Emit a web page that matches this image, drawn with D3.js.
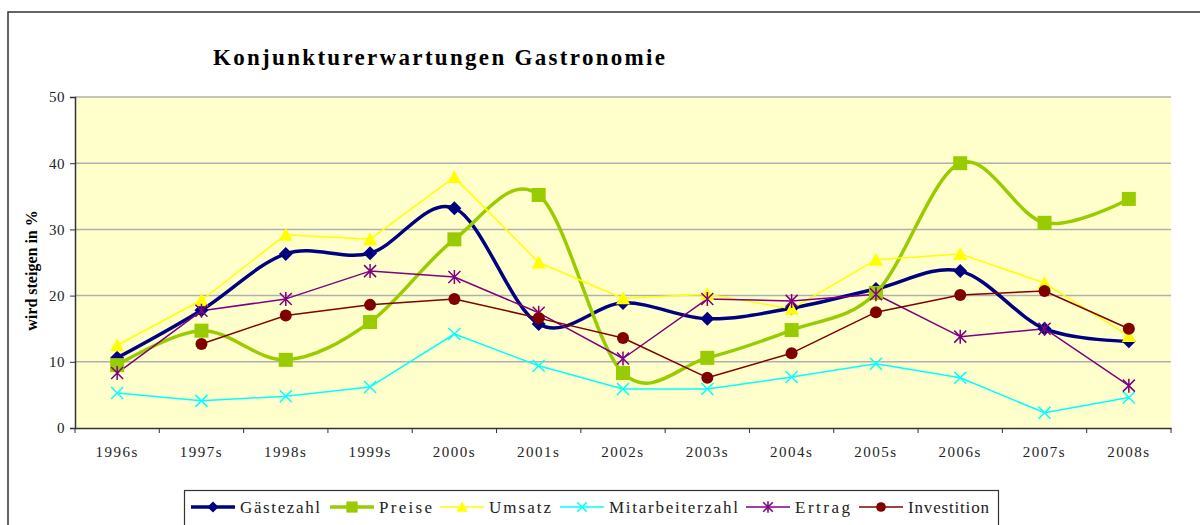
<!DOCTYPE html>
<html><head><meta charset="utf-8">
<script src="https://cdn.jsdelivr.net/npm/d3@7/dist/d3.min.js"></script>
<style>body{margin:0;background:#fff;}svg{display:block;}</style>
</head><body>
<svg id="c" width="1200" height="525"></svg>
<script>
const categories = ["1996s","1997s","1998s","1999s","2000s","2001s","2002s","2003s","2004s","2005s","2006s","2007s","2008s"];
const yTicks = [0,10,20,30,40,50];
const gaestezahl = [10.6,17.8,26.3,26.4,33.2,15.7,18.9,16.5,18.1,21.0,23.7,15.0,13.1];
const preise = [9.5,14.7,10.3,16.0,28.5,35.2,8.3,10.6,14.8,20.4,40.0,31.0,34.6];
const umsatz = [12.5,19.3,29.2,28.5,37.9,25.0,19.6,20.2,18.0,25.4,26.3,21.9,13.9];
const mitarbeiterzahl = [5.3,4.1,4.8,6.2,14.2,9.4,5.9,5.9,7.7,9.7,7.6,2.3,4.6];
const ertrag = [8.3,17.7,19.5,23.7,22.8,17.4,10.5,19.5,19.2,20.2,13.8,15.0,6.4];
const investition = [null,12.7,17.0,18.6,19.5,16.6,13.6,7.6,11.3,17.5,20.1,20.7,15.0];

const series = [
  {name:"Gästezahl", values:gaestezahl, color:"#000080", width:3.5, marker:"diamond", smooth:true},
  {name:"Preise", values:preise, color:"#99CC00", width:3.5, marker:"square", smooth:true},
  {name:"Umsatz", values:umsatz, color:"#FFFF00", width:1.5, marker:"triangle", smooth:false},
  {name:"Mitarbeiterzahl", values:mitarbeiterzahl, color:"#00FFFF", width:1.5, marker:"x", smooth:false},
  {name:"Ertrag", values:ertrag, color:"#800080", width:1.5, marker:"asterisk", smooth:false},
  {name:"Investition", values:investition, color:"#800000", width:1.5, marker:"circle", smooth:false}
];

const svg = d3.select("#c");
const L = 75, R = 1171, T = 97, B = 428;
const serif = "'Liberation Serif','Times New Roman',serif";

// outer frame
svg.append("rect").attr("x",8).attr("y",12).attr("width",1300).attr("height",600)
  .attr("fill","#fff").attr("stroke","#333").attr("stroke-width",1.5);

// title
svg.append("text").attr("x",213).attr("y",65).attr("font-family",serif).attr("font-weight","bold")
  .attr("font-size",23).attr("textLength",452).attr("lengthAdjust","spacing")
  .attr("fill","#000").text("Konjunkturerwartungen Gastronomie");

const x = d3.scaleBand().domain(categories).range([L,R]);
const y = d3.scaleLinear().domain([0,50]).range([B,T]);

svg.append("rect").attr("x",L).attr("y",T).attr("width",R-L).attr("height",B-T).attr("fill","#FFFFCC");

// grid
svg.append("g").selectAll("line").data(yTicks.filter(d=>d>0)).join("line")
  .attr("x1",L).attr("x2",R).attr("y1",d=>y(d)).attr("y2",d=>y(d))
  .attr("stroke","#B0B0B0").attr("stroke-width",1.5);

// y axis
const ya = svg.append("g").attr("transform",`translate(${L},0)`)
  .call(d3.axisLeft(y).tickValues(yTicks).tickSize(5).tickPadding(5));
ya.select(".domain").attr("stroke","#333").attr("stroke-width",1.5);
ya.selectAll(".tick line").attr("stroke","#333");
ya.selectAll("text").attr("font-family",serif).attr("font-size",15).attr("fill","#222").attr("letter-spacing",0.5);

// x axis
const xa = svg.append("g").attr("transform",`translate(0,${B})`)
  .call(d3.axisBottom(x).tickSize(0).tickPadding(18));
xa.select(".domain").attr("stroke","#333").attr("stroke-width",1.5);
xa.selectAll("text").attr("font-family",serif).attr("font-size",15).attr("fill","#222").attr("letter-spacing",1.5);
svg.append("g").selectAll("line").data(d3.range(categories.length+1)).join("line")
  .attr("x1",i=>L+i*x.step()).attr("x2",i=>L+i*x.step()).attr("y1",B).attr("y2",B+5)
  .attr("stroke","#333").attr("stroke-width",1);

// y label
svg.append("text").attr("transform",`translate(37,${(T+B)/2 + 8}) rotate(-90)`).attr("text-anchor","middle")
  .attr("font-family",serif).attr("font-weight","bold").attr("font-size",16).attr("fill","#000")
  .text("wird steigen in %");

function drawMarker(g, type, cx, cy, color, s){
  s = s || 1;
  if(type==="diamond"){
    g.append("path").attr("d",`M${cx},${cy-7*s}L${cx+7*s},${cy}L${cx},${cy+7*s}L${cx-7*s},${cy}Z`).attr("fill",color);
  } else if(type==="square"){
    g.append("rect").attr("x",cx-7*s).attr("y",cy-7*s).attr("width",14*s).attr("height",14*s).attr("fill",color);
  } else if(type==="triangle"){
    g.append("path").attr("d",`M${cx},${cy-7*s}L${cx+7*s},${cy+6*s}L${cx-7*s},${cy+6*s}Z`).attr("fill",color);
  } else if(type==="x"){
    const r=6*s;
    g.append("path").attr("d",`M${cx-r},${cy-r}L${cx+r},${cy+r}M${cx-r},${cy+r}L${cx+r},${cy-r}`)
      .attr("stroke",color).attr("stroke-width",1.5).attr("fill","none");
  } else if(type==="asterisk"){
    const r=6*s;
    g.append("path").attr("d",`M${cx-r},${cy-r}L${cx+r},${cy+r}M${cx-r},${cy+r}L${cx+r},${cy-r}M${cx},${cy-r-1}L${cx},${cy+r+1}`)
      .attr("stroke",color).attr("stroke-width",1.5).attr("fill","none");
  } else if(type==="circle"){
    g.append("circle").attr("cx",cx).attr("cy",cy).attr("r",6*s).attr("fill",color);
  }
}

const plot = svg.append("g");
series.forEach(s=>{
  const pts = s.values.map((v,i)=>({c:categories[i],v})).filter(d=>d.v!==null);
  const line = d3.line().x(d=>x(d.c)+x.bandwidth()/2).y(d=>y(d.v))
    .curve(s.smooth ? d3.curveCardinal.tension(0) : d3.curveLinear);
  plot.append("path").datum(pts).attr("d",line).attr("fill","none")
    .attr("stroke",s.color).attr("stroke-width",s.width).attr("stroke-linejoin","round");
});
series.forEach(s=>{
  const g = plot.append("g");
  s.values.forEach((v,i)=>{ if(v!==null) drawMarker(g,s.marker,x(categories[i])+x.bandwidth()/2,y(v),s.color); });
});

// legend
const lg = svg.append("g");
lg.append("rect").attr("x",184.5).attr("y",490.5).attr("width",814).attr("height",60)
  .attr("fill","#fff").attr("stroke","#333").attr("stroke-width",1.2);
const legLineX = [191,330,440,560,746,859];
const legTextW = [80,53,62,129,55,81];
const lineLen = 44;
series.forEach((s,i)=>{
  const x0 = legLineX[i], yy = 507;
  lg.append("line").attr("x1",x0).attr("x2",x0+lineLen).attr("y1",yy).attr("y2",yy)
    .attr("stroke",s.color).attr("stroke-width",s.width);
  drawMarker(lg,s.marker,x0+lineLen/2,yy,s.color,0.8);
  lg.append("text").attr("x",x0+lineLen+5).attr("y",yy+6).attr("font-family",serif)
    .attr("font-size",17).attr("textLength",legTextW[i]).attr("lengthAdjust","spacing")
    .attr("fill","#222").text(s.name);
});
</script>
</body></html>
